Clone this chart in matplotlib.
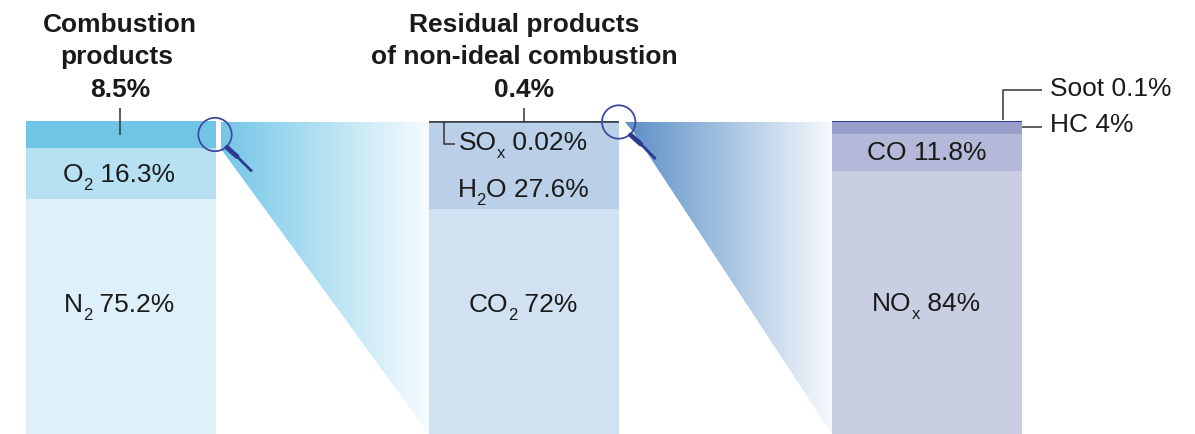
import numpy as np
import matplotlib
matplotlib.use("Agg")
import matplotlib.pyplot as plt
from matplotlib.colors import LinearSegmentedColormap
from matplotlib.patches import Circle, Polygon

# Values in percent, bottom band first
exhaust_values = [75.2, 16.3, 8.5]
exhaust_colors = ['#def0f9', '#b7e1f3', '#70c5e6']
combustion_values = [72, 27.6, 0.38, 0.02]
combustion_colors = ['#d1e1f1', '#b9d0e8', '#5b86b8', '#33507f']
residual_values = [84, 11.8, 4, 0.1]
residual_colors = ['#c9cee3', '#b5b9d9', '#989fcb', '#2e3a92']

plt.rcParams['font.family'] = ['Liberation Sans', 'DejaVu Sans']

W, H = 1195, 434
fig = plt.figure(figsize=(W / 100, H / 100), dpi=100, facecolor='white')

# pixel axes for the annotations, the stacks share its x scale
ax = fig.add_axes([0, 0, 1, 1])
ax.set_xlim(0, W)
ax.set_ylim(H, 0)
ax.axis('off')

# percent axes: 100% is 313 px tall and sits on the bottom edge
bars = fig.add_axes([0, 0, 1, 1], zorder=-1)
bars.set_xlim(0, W)
bars.set_ylim(0, H / 3.13)
bars.axis('off')


def stack(x, values, colors):
    bottom = 0
    for v, c in zip(values, colors):
        bars.bar(x, v, width=190, bottom=bottom, color=c, linewidth=0)
        bottom += v


stack(121, exhaust_values, exhaust_colors)
stack(524, combustion_values, combustion_colors)
stack(927, residual_values, residual_colors)


def wedge(points, start, end):
    cmap = LinearSegmentedColormap.from_list('w', [start, end])
    xs = [p[0] for p in points]
    ys = [p[1] for p in points]
    im = ax.imshow(np.linspace(0, 1, 256).reshape(1, -1), cmap=cmap, aspect='auto',
                   extent=[min(xs), max(xs), max(ys), min(ys)], zorder=1)
    clip = Polygon(points, closed=True, transform=ax.transData, facecolor='none', edgecolor='none')
    ax.add_patch(clip)
    im.set_clip_path(clip)


wedge([(221, 122), (429, 122), (429, 434), (221, 149)], '#74c6e7', '#f7fcfe')
wedge([(625, 122), (832, 122), (832, 434), (634, 133)], '#5a8fc6', '#f6f9fc')
ax.set_xlim(0, W)
ax.set_ylim(H, 0)

label_size = 19
sub_size = 12
ink = '#1a1a1a'
renderer = fig.canvas.get_renderer()


# label with a small subscript, centred on x with its baseline at y
def sub_label(x, y, before, sub, after):
    parts = [ax.text(0, y, before, fontsize=label_size, va='baseline', color=ink, zorder=5),
             ax.text(0, y + 8, sub, fontsize=sub_size, va='baseline', color=ink, zorder=5),
             ax.text(0, y, after, fontsize=label_size, va='baseline', color=ink, zorder=5)]
    widths = [p.get_window_extent(renderer).width for p in parts]
    left = x - sum(widths) / 2
    for p, w in zip(parts, widths):
        p.set_x(left)
        left += w


sub_label(119, 312, 'N', '2', ' 75.2%')
sub_label(119, 182, 'O', '2', ' 16.3%')
sub_label(523, 312, 'CO', '2', ' 72%')
sub_label(523, 197, 'H', '2', 'O 27.6%')
sub_label(523, 150, 'SO', 'x', ' 0.02%')
sub_label(926, 311, 'NO', 'x', ' 84%')

ax.text(927, 160, 'CO 11.8%', fontsize=label_size, ha='center', va='baseline', color=ink, zorder=5)
ax.text(1050, 96, 'Soot 0.1%', fontsize=label_size, va='baseline', color=ink)
ax.text(1050, 132, 'HC 4%', fontsize=label_size, va='baseline', color=ink)

# headers
for x, y, s in [(120, 32, 'Combustion'), (117, 64, 'products'), (120, 97, '8.5%'),
                (524, 32, 'Residual products'), (524, 64, 'of non-ideal combustion'), (524, 97, '0.4%')]:
    ax.text(x, y, s, fontsize=label_size, fontweight='bold', ha='center', va='baseline', color=ink)

# leader lines
line = dict(color='#333333', lw=1.1, zorder=4, solid_capstyle='butt')
ax.plot([120, 120], [108, 135], **line)
ax.plot([524, 524], [108, 122], **line)
ax.plot([429, 619], [122, 122], **line)
ax.plot([444, 444, 455], [122, 144, 144], **line)
ax.plot([1003, 1003, 1042], [120, 90, 90], **line)
ax.plot([1022, 1042], [127, 127], **line)

# magnifiers
for cx, cy in [(215, 134.5), (618.7, 122)]:
    ax.add_patch(Circle((cx, cy), 16.7, facecolor='none', edgecolor='#3f4a9c', lw=1.3, zorder=6))
    ax.plot([cx + 12, cx + 22], [cy + 13, cy + 22], color='#2e3a92', lw=3.5, zorder=6, solid_capstyle='round')
    ax.plot([cx + 21, cx + 36], [cy + 21, cy + 36], color='#2e3a92', lw=2, zorder=6)

fig.savefig('out.png', dpi=100, facecolor='white')
